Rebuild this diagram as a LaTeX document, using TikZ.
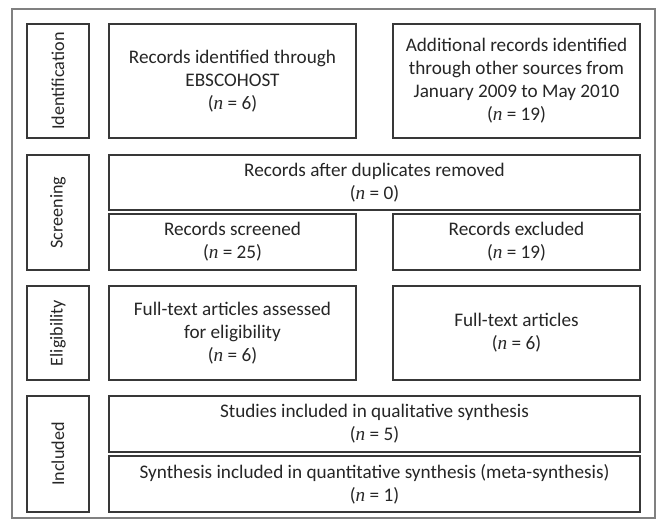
\documentclass[tikz,border=0pt]{standalone}
\usepackage{fontspec}
\setmainfont{Carlito}
\newfontfamily\nserif{Liberation Serif}
\newcommand{\nn}{{\nserif\itshape n}}
\begin{document}
\begin{tikzpicture}[x=0.75pt,y=-0.75pt,
  box/.style={draw=black!78, line width=0.9pt, align=center, inner sep=0pt,
    font=\fontsize{14.4}{17.3}\selectfont, text=black!85},
  stage/.style={box, minimum height=46.5pt, rotate=90, font=\fontsize{13.6}{16}\selectfont},
  half/.style={box, minimum width=185.25pt},
  wide/.style={box, minimum width=398.25pt}]
\useasboundingbox (0,0) rectangle (658,520);
\fill[white] (0,0) rectangle (658,520);
\draw[black!50, line width=1.1pt] (12,9) rectangle (655,518);
% stage labels (rotated: minimum height is horizontal extent)
\node[stage, minimum width=85.5pt] (idl) at (58,81) {Identification};
\node[stage, minimum width=86.25pt] (scl) at (58,212.5) {Screening};
\node[stage, minimum width=70.5pt] (ell) at (58,333) {Eligibility};
\node[stage, minimum width=87pt] (inl) at (58,454) {Included};
% identification
\node[half, minimum height=85.5pt] (id1) at (232.5,81) {Records identified through\\EBSCOHOST\\(\nn{} = 6)};
\node[half, minimum height=85.5pt] (id2) at (516.5,81) {Additional records identified\\through other sources from\\January 2009 to May 2010\\(\nn{} = 19)};
% screening
\node[wide, minimum height=41.25pt] (dup) at (374.5,182.5) {Records after duplicates removed\\(\nn{} = 0)};
\node[half, minimum height=42pt] (scr) at (232.5,242) {Records screened\\(\nn{} = 25)};
\node[half, minimum height=42pt] (exc) at (516.5,242) {Records excluded\\(\nn{} = 19)};
% eligibility
\node[half, minimum height=70.5pt] (el1) at (232.5,333) {Full-text articles assessed\\for eligibility\\(\nn{} = 6)};
\node[half, minimum height=70.5pt] (el2) at (516.5,333) {Full-text articles\\(\nn{} = 6)};
% included
\node[wide, minimum height=42pt] (qual) at (374.5,424) {Studies included in qualitative synthesis\\(\nn{} = 5)};
\node[wide, minimum height=42pt] (quan) at (374.5,484) {Synthesis included in quantitative synthesis (meta-synthesis)\\(\nn{} = 1)};
\end{tikzpicture}
\end{document}
